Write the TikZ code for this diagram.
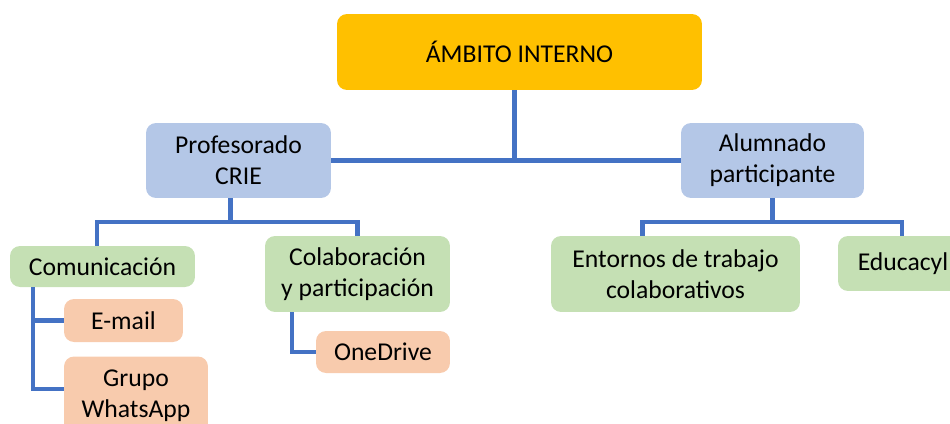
\documentclass[tikz,border=0pt]{standalone}
\usepackage{fontspec}
\setmainfont{Carlito}
\definecolor{ambito}{HTML}{FFC000}
\definecolor{grupoazul}{HTML}{B4C7E7}
\definecolor{grupoverde}{HTML}{C5E0B4}
\definecolor{gruposalmon}{HTML}{F8CBAD}
\definecolor{enlace}{HTML}{4472C4}
\tikzset{
  caja/.style={rounded corners=0.2cm, inner sep=0pt, align=center,
    font=\fontsize{14.6}{17.8}\selectfont},
  cajatop/.style={caja, fill=ambito},
  cajaazul/.style={caja, fill=grupoazul},
  cajaverde/.style={caja, fill=grupoverde},
  cajasalmon/.style={caja, fill=gruposalmon},
  enlace/.style={draw=enlace, line width=2.3pt}
}
\begin{document}
\begin{tikzpicture}[x=0.02cm,y=-0.02cm]
\useasboundingbox (0,0) rectangle (950,423);
\clip (0,0) rectangle (950,423);
\node[cajatop, minimum width=7.3cm, minimum height=1.52cm] (top) at (519.5,52) {ÁMBITO INTERNO};
\node[cajaazul, minimum width=3.7cm, minimum height=1.5cm] (prof) at (238.5,160.5) {Profesorado\\CRIE};
\node[cajaazul, minimum width=3.66cm, minimum height=1.5cm] (alum) at (772.5,160.5) {Alumnado\\participante};
\node[cajaverde, minimum width=3.7cm, minimum height=0.82cm] (comu) at (102.5,266.5) {Comunicación};
\node[cajaverde, minimum width=3.7cm, minimum height=1.52cm] (colab) at (357.5,274) {Colaboración\\y participación};
\node[cajaverde, minimum width=4.98cm, minimum height=1.52cm] (ent) at (675.5,274) {Entornos de trabajo\\colaborativos};
\node[cajaverde, minimum width=2.6cm, minimum height=1.1cm] (edu) at (903,263.5) {Educacyl};
\node[cajasalmon, minimum width=2.38cm, minimum height=0.86cm] (email) at (123.5,320.5) {E-mail};
\node[cajasalmon, minimum width=2.88cm, minimum height=1.58cm] (grupo) at (136,396) {Grupo\\WhatsApp};
\node[cajasalmon, minimum width=2.68cm, minimum height=0.84cm] (onedrive) at (383,352) {OneDrive};
% primer nivel
\draw[enlace] ([xshift=-0.1cm]top.south) -- ([xshift=-0.1cm]top.south |- prof.east);
\draw[enlace] (prof.east) -- (alum.west);
% profesorado
\draw[enlace] ([xshift=-0.16cm]prof.south) -- ++(0,24) coordinate (pj);
\draw[enlace] (pj) -| ([xshift=-0.11cm]comu.north);
\draw[enlace] (pj) -| (colab.north);
% alumnado
\draw[enlace] (alum.south) -- ++(0,24) coordinate (aj);
\draw[enlace] (aj) -| ([xshift=-0.66cm]ent.north);
\draw[enlace] (aj) -| ([xshift=-0.02cm]edu.north);
% hojas
\draw[enlace] ([xshift=0.46cm]comu.south west) |- (email.west);
\draw[enlace] ([xshift=0.46cm]comu.south west) |- ([yshift=0.14cm]grupo.west);
\draw[enlace] ([xshift=0.54cm]colab.south west) |- (onedrive.west);
\end{tikzpicture}
\end{document}
